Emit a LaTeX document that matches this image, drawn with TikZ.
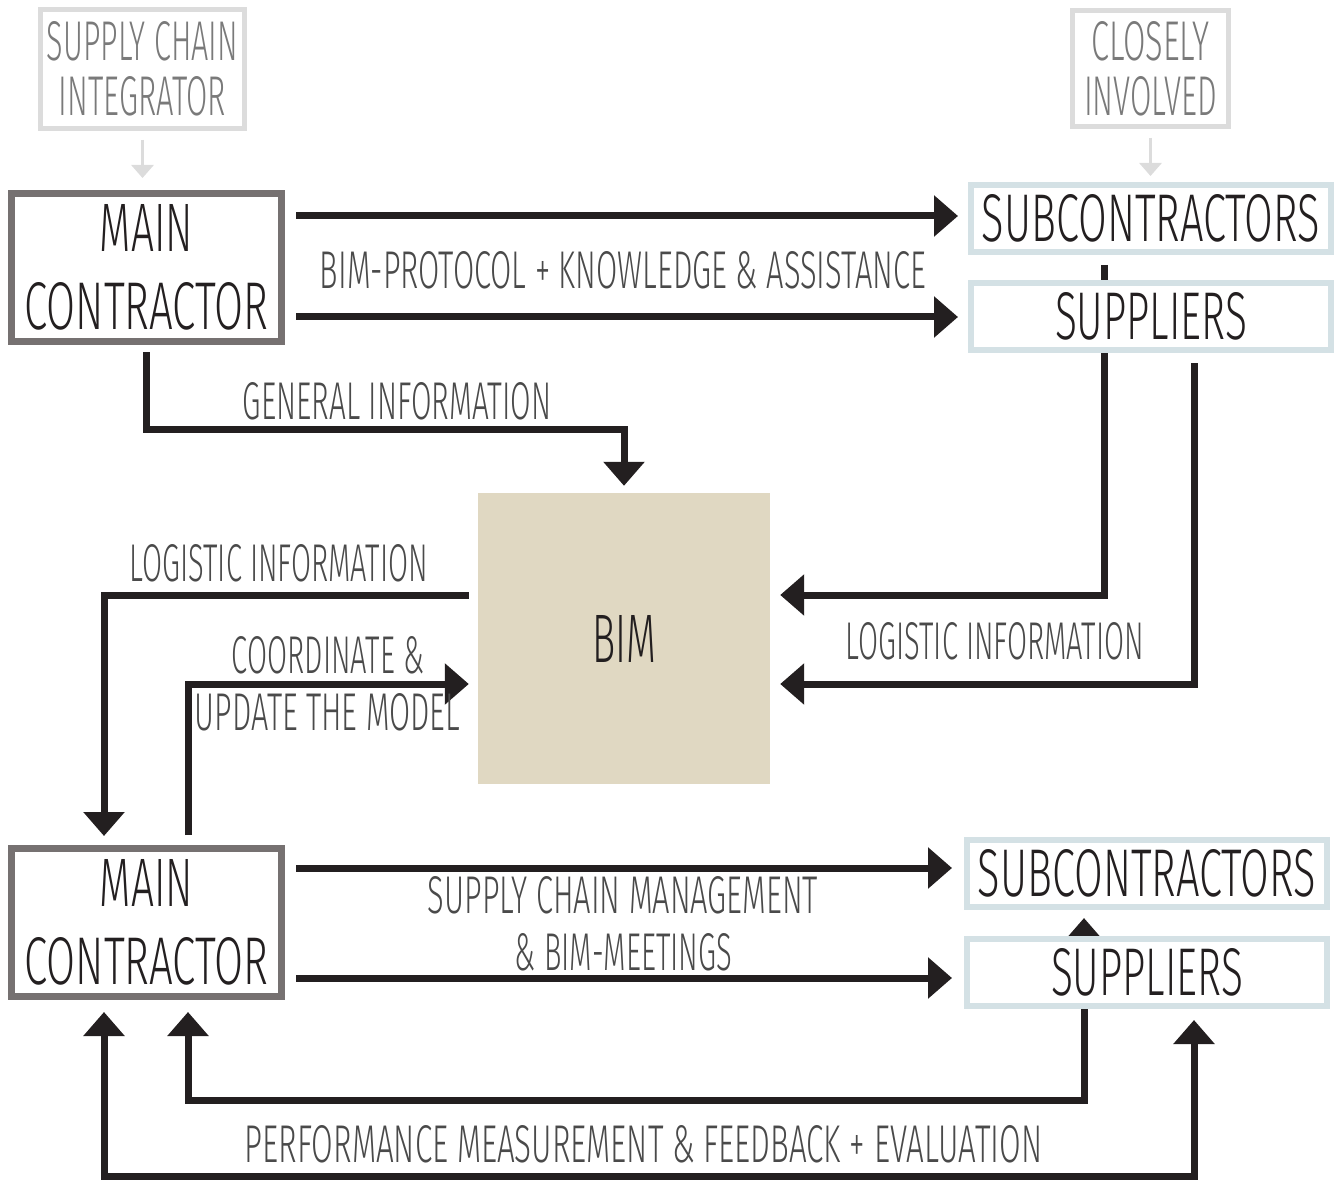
\documentclass[tikz,border=0pt]{standalone}
\usepackage{fontspec}
\IfFontExistsTF{Fira Sans Light}{\setmainfont{Fira Sans Light}}{%
  \IfFontExistsTF{Lato Light}{\setmainfont{Lato Light}}{%
    \IfFontExistsTF{Open Sans Light}{\setmainfont{Open Sans Light}}{\setmainfont{Fira Sans}}}}
\usepackage{graphicx}
\usetikzlibrary{arrows.meta,calc,backgrounds}
\definecolor{ink}{HTML}{231F20}
\definecolor{boxgray}{HTML}{767171}
\definecolor{boxblue}{HTML}{D4E1E5}
\definecolor{lightbox}{HTML}{DCDCDC}
\definecolor{bimfill}{HTML}{E0D8C2}
\definecolor{lblgray}{HTML}{4A4A4A}
\definecolor{topgray}{HTML}{7A7A7A}
\newcommand{\fitt}[3]{\resizebox{#1pt}{#2pt}{#3}}
\tikzset{
  bigtri/.tip={Triangle[length=24pt,width=40pt]},
  arr/.style={draw=ink,line width=7pt,line join=miter,-bigtri},
  darr/.style={draw=ink,line width=7pt,line join=miter,bigtri-bigtri},
  garr/.style={draw=lightbox,line width=3pt,-{Triangle[length=13pt,width=22pt]}},
  mainbox/.style={draw=boxgray,line width=7pt,fill=white,minimum width=270pt,minimum height=148pt,inner sep=0pt,align=center,font=\fontsize{10}{78}\selectfont,text=ink},
  subbox/.style={draw=boxblue,line width=6pt,fill=white,minimum width=360pt,minimum height=67pt,inner sep=0pt,text=ink},
  graybox/.style={draw=lightbox,line width=5pt,fill=white,inner sep=0pt,align=center,font=\fontsize{10}{55}\selectfont,text=topgray},
  lbl/.style={inner sep=0pt,text=lblgray},
}
\begin{document}
\begin{tikzpicture}[x=1pt,y=-1pt]
\useasboundingbox (0,0) rectangle (1336,1182);
% boxes
\node[graybox,minimum width=204pt,minimum height=119pt] (sci) at (142.5,69) {\fitt{191}{39}{SUPPLY CHAIN}\\\fitt{167}{39}{INTEGRATOR}};
\node[graybox,minimum width=156pt,minimum height=116pt] (ci) at (1150.5,68.5) {\fitt{118}{39}{CLOSELY}\\\fitt{133}{39}{INVOLVED}};
\node[mainbox] (mc1) at (146.5,267.5) {\fitt{93}{47}{MAIN}\\\fitt{244}{47}{CONTRACTOR}};
\node[mainbox] (mc2) at (146.5,922.5) {\fitt{93}{47}{MAIN}\\\fitt{244}{47}{CONTRACTOR}};
\node[subbox] (sub1) at (1151,218.5) {\fitt{338}{47}{SUBCONTRACTORS}};
\node[subbox] (sup1) at (1151,316.5) {\fitt{192}{47}{SUPPLIERS}};
\node[subbox] (sub2) at (1147,873.5) {\fitt{338}{47}{SUBCONTRACTORS}};
\node[subbox] (sup2) at (1147,972.5) {\fitt{192}{47}{SUPPLIERS}};
\node[fill=bimfill,minimum width=292pt,minimum height=291pt,inner sep=0pt,text=ink] (bim) at (624,638.5) {\fitt{64}{47}{BIM}};
% labels
\node[lbl] (l1) at (623,270.5) {\fitt{606}{37}{BIM-PROTOCOL + KNOWLEDGE \& ASSISTANCE}};
\node[lbl] (l2) at (397,401) {\fitt{308}{37}{GENERAL INFORMATION}};
\node[lbl] (l3) at (279,563.5) {\fitt{298}{37}{LOGISTIC INFORMATION}};
\node[lbl] (l4) at (328,655) {\fitt{192}{37}{COORDINATE \&}};
\node[lbl] (l5) at (327.5,712.5) {\fitt{265}{37}{UPDATE THE MODEL}};
\node[lbl] (l6) at (995,641) {\fitt{298}{37}{LOGISTIC INFORMATION}};
\node[lbl] (l7) at (623,895) {\fitt{390}{37}{SUPPLY CHAIN MANAGEMENT}};
\node[lbl] (l8) at (623.5,952) {\fitt{217}{37}{\& BIM-MEETINGS}};
\node[lbl] (l9) at (643.5,1144) {\fitt{797}{37}{PERFORMANCE MEASUREMENT \& FEEDBACK + EVALUATION}};
% connectors
\begin{scope}[on background layer]
\draw[garr] ($(sci.south)+(0,9)$) -- ($(sci.south |- mc1.north)+(0,-12)$);
\draw[garr] ($(ci.south)+(0,9)$) -- ($(ci.south |- sub1.north)+(0,-6)$);
\draw[arr] ($(mc1.east |- sub1.west)+(11,-2.5)$) -- ($(sub1.west)+(-10,-2.5)$);
\draw[arr] ($(mc1.east |- sup1.west)+(11,0.5)$) -- ($(sup1.west)+(-10,0.5)$);
\draw[arr] ($(mc1.south)+(0,7)$) |- ($(bim.north)+(0,-63)$) -- ($(bim.north)+(0,-7)$);
\draw[arr] ($(sub1.south)+(-47,10)$) |- ($(bim.east)+(10,-43.5)$);
\draw[arr] ($(sup1.south)+(43,10)$) |- ($(bim.east)+(10,45.5)$);
\draw[arr] ($(bim.west)+(-9,-43.5)$) -| ($(mc2.north)+(-42.5,-9)$);
\draw[arr] ($(mc2.north)+(41.5,-10)$) |- ($(bim.west)+(-9,45.5)$);
\draw[arr] ($(mc2.east |- sub2.west)+(11,-5.5)$) -- ($(sub2.west)+(-12,-5.5)$);
\draw[arr] ($(mc2.east |- sup2.west)+(11,5.5)$) -- ($(sup2.west)+(-12,5.5)$);
\draw[darr] ($(mc2.south)+(41.5,12)$) |- ($(sup2.south)+(-63,91)$) -- ($(sub2.south)+(-63,8)$);
\draw[darr] ($(mc2.south)+(-42.5,12)$) |- ($(sup2.south)+(47,167)$) -- ($(sup2.south)+(47,11)$);
\end{scope}
\end{tikzpicture}
\end{document}
